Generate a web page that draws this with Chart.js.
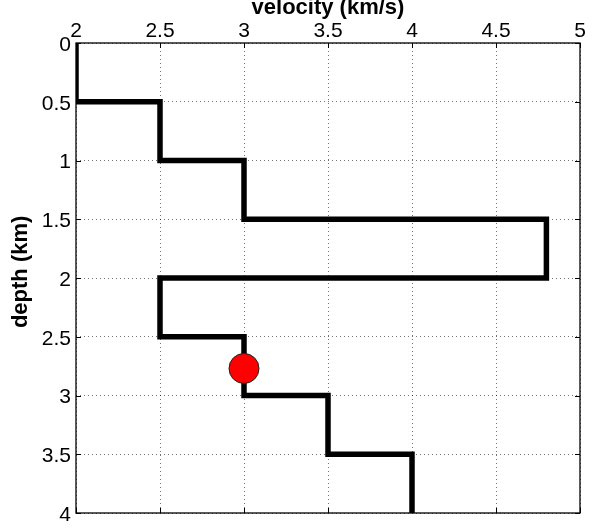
<!DOCTYPE html>
<html>
<head>
<meta charset="utf-8">
<script src="https://cdn.jsdelivr.net/npm/chart.js@4"></script>
<style>
  html, body { margin: 0; padding: 0; background: #fff; }
  #wrap { width: 604px; height: 529px; }
</style>
</head>
<body>
<div id="wrap"><canvas id="c" width="604" height="529"></canvas></div>
<script>
// ---- data ----
const layerTops    = [0, 0.5, 1, 1.5, 2, 2.5, 3, 3.5];
const layerBottoms = [0.5, 1, 1.5, 2, 2.5, 3, 3.5, 4];
const velocities   = [2, 2.5, 3, 4.8, 2.5, 3, 3.5, 4];
const markerVelocity = [3];
const markerDepth    = [2.77];
const xTicks = [2, 2.5, 3, 3.5, 4, 4.5, 5];
const yTicks = [0, 0.5, 1, 1.5, 2, 2.5, 3, 3.5, 4];
const xTickLabels = ['2', '2.5', '3', '3.5', '4', '4.5', '5'];
const yTickLabels = ['0', '0.5', '1', '1.5', '2', '2.5', '3', '3.5', '4'];

// step profile points built from the layer arrays
const profile = [];
velocities.forEach((v, i) => {
  profile.push({x: v, y: layerTops[i]});
  profile.push({x: v, y: layerBottoms[i]});
});
const marker = markerVelocity.map((v, i) => ({x: v, y: markerDepth[i]}));

const FONT = '"Liberation Sans", Arial, Helvetica, sans-serif';

const frameTicks = {
  id: 'frameTicks',
  afterDatasetsDraw(chart) {
    const {ctx, chartArea: a, scales: {x, y}} = chart;
    ctx.save();
    ctx.strokeStyle = '#000';
    ctx.lineWidth = 1;
    ctx.beginPath();
    const L = 5;
    xTicks.forEach(v => {
      const px = Math.round(x.getPixelForValue(v)) + 0.5;
      ctx.moveTo(px, a.top); ctx.lineTo(px, a.top + L);
      ctx.moveTo(px, a.bottom); ctx.lineTo(px, a.bottom - L);
    });
    yTicks.forEach(v => {
      const py = Math.round(y.getPixelForValue(v)) + 0.5;
      ctx.moveTo(a.left, py); ctx.lineTo(a.left + L, py);
      ctx.moveTo(a.right, py); ctx.lineTo(a.right - L, py);
    });
    ctx.stroke();
    ctx.lineWidth = 1.3;
    ctx.strokeRect(a.left, a.top, a.right - a.left, a.bottom - a.top);
    ctx.restore();
  }
};

new Chart(document.getElementById('c'), {
  type: 'scatter',
  data: {
    datasets: [
      {
        data: marker,
        order: 0,
        pointRadius: 15,
        pointHoverRadius: 15,
        backgroundColor: '#ff0000',
        borderColor: '#222',
        borderWidth: 1,
        showLine: false
      },
      {
        data: profile,
        order: 1,
        showLine: true,
        borderColor: '#000',
        borderWidth: 5.5,
        borderJoinStyle: 'miter',
        borderCapStyle: 'butt',
        tension: 0,
        pointRadius: 0,
        pointHoverRadius: 0
      }
    ]
  },
  options: {
    responsive: false,
    animation: false,
    devicePixelRatio: 1,
    layout: { padding: { left: 0, right: 24, top: 0, bottom: 13 } },
    plugins: { legend: { display: false }, tooltip: { enabled: false } },
    events: [],
    scales: {
      x: {
        type: 'linear',
        position: 'top',
        min: 2, max: 5,
        afterBuildTicks(s) { s.ticks = xTicks.map(v => ({value: v})); },
        afterFit(s) { s.height = 43; },
        ticks: {
          color: '#000',
          padding: 1,
          font: { family: FONT, size: 21, lineHeight: 1 },
          callback: (v) => xTickLabels[xTicks.indexOf(v)] ?? '',
          maxRotation: 0, autoSkip: false
        },
        grid: {
          color: 'rgba(0,0,0,0.55)',
          lineWidth: 1,
          drawTicks: false
        },
        border: { display: false, dash: [1, 3] },
        title: {
          display: true,
          text: 'velocity (km/s)',
          color: '#000',
          font: { family: FONT, size: 22, weight: 'bold', lineHeight: 1.2 },
          padding: { top: -5, bottom: 0 }
        }
      },
      y: {
        type: 'linear',
        position: 'left',
        reverse: true,
        min: 0, max: 4,
        afterBuildTicks(s) { s.ticks = yTicks.map(v => ({value: v})); },
        afterFit(s) { s.width = 76; },
        ticks: {
          color: '#000',
          padding: 5,
          labelOffset: 2,
          font: { family: FONT, size: 21, lineHeight: 1 },
          callback: (v) => yTickLabels[yTicks.indexOf(v)] ?? '',
          autoSkip: false
        },
        grid: {
          color: 'rgba(0,0,0,0.55)',
          lineWidth: 1,
          drawTicks: false
        },
        border: { display: false, dash: [1, 3] },
        title: {
          display: true,
          text: '  depth (km)',
          color: '#000',
          font: { family: FONT, size: 22, weight: 'bold', lineHeight: 1.2 },
          padding: { top: 7.5, bottom: 0 }
        }
      }
    }
  },
  plugins: [frameTicks]
});
</script>
</body>
</html>
